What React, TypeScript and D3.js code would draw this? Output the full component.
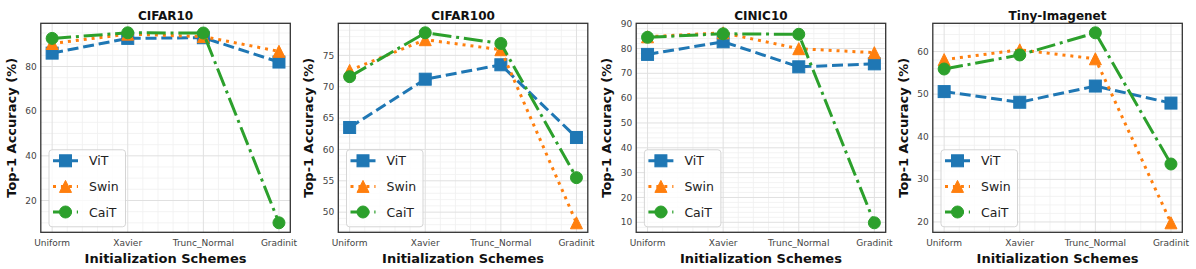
import * as d3 from 'd3';
import React from 'react';

// Accuracy values
const categories = ['Uniform', 'Xavier', 'Trunc_Normal', 'Gradinit'];
const datasets = ['CIFAR10', 'CIFAR100', 'CINIC10', 'Tiny-Imagenet'];

const vitAcc = [
    [86.0, 92.6, 92.9, 82.0],
    [63.5, 71.2, 73.5, 61.9],
    [77.6, 82.7, 72.6, 73.8],
    [50.6, 48.1, 51.9, 47.9],
];
const swinAcc = [
    [90.3, 94.5, 93.4, 86.8],
    [72.6, 77.5, 75.9, 48.3],
    [84.7, 86.3, 79.9, 78.3],
    [58.1, 60.4, 58.3, 19.8],
];
const caitAcc = [
    [92.6, 95.1, 95.0, 10.0],
    [71.6, 78.6, 76.9, 55.5],
    [84.5, 85.9, 85.7, 9.8],
    [55.9, 59.2, 64.4, 33.6],
];

const yTicks = [
    [20, 40, 60, 80],
    [50, 55, 60, 65, 70, 75],
    [10, 20, 30, 40, 50, 60, 70, 80, 90],
    [20, 30, 40, 50, 60],
];
const yMinorStep = [5, 1, 2, 2];

const seriesNames = ['ViT', 'Swin', 'CaiT'];
const seriesColors = ['#1f77b4', '#ff7f0e', '#2ca02c'];
const seriesDash = ['11,4.8', '3,4.95', '19,4.8,3,4.8'];
const seriesMarker = ['square', 'triangle', 'circle'];

const font = '"DejaVu Sans", sans-serif';
const panelLeft = [40.8, 338.3, 636.2, 932.8];
const panelW = 249.5;
const top = 23.3;
const bottom = 232.3;

function Marker({ kind, x, y, color }: { kind: string; x: number; y: number; color: string }) {
    const s = 12;
    if (kind === 'square') {
        return <rect x={x - s / 2} y={y - s / 2} width={s} height={s} fill={color} stroke={color} strokeWidth={1} />;
    }
    if (kind === 'triangle') {
        const h = s / 2;
        return (
            <path
                d={`M${x},${y - h} L${x + h},${y + h} L${x - h},${y + h} Z`}
                fill={color}
                stroke={color}
                strokeWidth={1}
                strokeLinejoin="miter"
            />
        );
    }
    return <circle cx={x} cy={y} r={s / 2} fill={color} stroke={color} strokeWidth={1} />;
}

function Panel({ idx }: { idx: number }) {
    const left = panelLeft[idx];
    const right = left + panelW;
    const series = [vitAcc[idx], swinAcc[idx], caitAcc[idx]];

    const all = series.flat();
    const lo = d3.min(all)!;
    const hi = d3.max(all)!;
    const pad = (hi - lo) * 0.05;

    const x = d3.scaleLinear().domain([-0.15, categories.length - 1 + 0.15]).range([left, right]);
    const y = d3.scaleLinear().domain([lo - pad, hi + pad]).range([bottom, top]);

    const xMinor = d3.range(-0.0, categories.length - 1 + 0.001, 0.2).filter(v => Math.abs(v - Math.round(v)) > 1e-6);
    const [y0, y1] = y.domain();
    const step = yMinorStep[idx];
    const yMinor = d3
        .range(Math.ceil(y0 / step) * step, y1, step)
        .filter(v => !yTicks[idx].some(t => Math.abs(t - v) < 1e-6));

    const line = d3
        .line<number>()
        .x((_, i) => x(i))
        .y(d => y(d));

    const clipId = `clip-${idx}`;
    const cx = (left + right) / 2;

    // legend layout
    const lgX = left + 8.2;
    const lgY = bottom - 5.5 - 77;

    return (
        <g>
            <defs>
                <clipPath id={clipId}>
                    <rect x={left} y={top} width={panelW} height={bottom - top} />
                </clipPath>
            </defs>
            <rect x={left} y={top} width={panelW} height={bottom - top} fill="white" />
            {/* minor grid */}
            {xMinor.map(v => (
                <line key={`xm${v}`} x1={x(v)} x2={x(v)} y1={top} y2={bottom} stroke="#f0f0f0" strokeWidth={0.8} />
            ))}
            {yMinor.map(v => (
                <line key={`ym${v}`} x1={left} x2={right} y1={y(v)} y2={y(v)} stroke="#f0f0f0" strokeWidth={0.8} />
            ))}
            {/* major grid */}
            {categories.map((c, i) => (
                <line key={c} x1={x(i)} x2={x(i)} y1={top} y2={bottom} stroke="#e0e0e0" strokeWidth={1} />
            ))}
            {yTicks[idx].map(t => (
                <line key={`yt${t}`} x1={left} x2={right} y1={y(t)} y2={y(t)} stroke="#e0e0e0" strokeWidth={1} />
            ))}
            {/* series */}
            <g clipPath={`url(#${clipId})`}>
                {series.map((vals, s) => (
                    <g key={seriesNames[s]}>
                        <path
                            d={line(vals)!}
                            fill="none"
                            stroke={seriesColors[s]}
                            strokeWidth={3}
                            strokeDasharray={seriesDash[s]}
                        />
                        {vals.map((v, i) => (
                            <Marker key={i} kind={seriesMarker[s]} x={x(i)} y={y(v)} color={seriesColors[s]} />
                        ))}
                    </g>
                ))}
            </g>
            {/* frame */}
            <rect x={left} y={top} width={panelW} height={bottom - top} fill="none" stroke="#333" strokeWidth={1.3} />
            {/* ticks */}
            {categories.map((c, i) => (
                <text key={`xl${c}`} x={x(i)} y={246} textAnchor="middle" fontSize={9} fill="#444" fontFamily={font}>
                    {c}
                </text>
            ))}
            {yTicks[idx].map(t => (
                <text
                    key={`yl${t}`}
                    x={left - 4}
                    y={y(t)}
                    dy="0.35em"
                    textAnchor="end"
                    fontSize={9}
                    fill="#444"
                    fontFamily={font}
                >
                    {t}
                </text>
            ))}
            <text x={cx} y={19.5} textAnchor="middle" fontSize={12} fontWeight="bold" fontFamily={font} fill="#111">
                {datasets[idx]}
            </text>
            <text x={cx} y={262.5} textAnchor="middle" fontSize={13} fontWeight="bold" fontFamily={font} fill="#111">
                Initialization Schemes
            </text>
            <text
                transform={`translate(${left - 25},${(top + bottom) / 2}) rotate(-90)`}
                textAnchor="middle"
                fontSize={13}
                fontWeight="bold"
                fontFamily={font}
                fill="#111"
            >
                Top-1 Accuracy (%)
            </text>
            {/* legend */}
            <rect
                x={lgX}
                y={lgY}
                width={76.5}
                height={77}
                rx={3}
                fill="white"
                fillOpacity={0.8}
                stroke="#d0d0d0"
                strokeWidth={0.9}
            />
            {seriesNames.map((n, s) => {
                const ly = lgY + 11 + s * 25.6;
                return (
                    <g key={`lg${n}`}>
                        <line
                            x1={lgX + 4}
                            x2={lgX + 29}
                            y1={ly}
                            y2={ly}
                            stroke={seriesColors[s]}
                            strokeWidth={3}
                            strokeDasharray={seriesDash[s]}
                        />
                        <Marker kind={seriesMarker[s]} x={lgX + 16.5} y={ly} color={seriesColors[s]} />
                        <text x={lgX + 40} y={ly} dy="0.36em" fontSize={12.5} fontFamily={font} fill="#222">
                            {n}
                        </text>
                    </g>
                );
            })}
        </g>
    );
}

export default function App() {
    return (
        <svg
            width={1196}
            height={269}
            style={{ position: 'absolute', left: 0, top: 0, background: 'white' }}
        >
            <rect width={1196} height={269} fill="white" />
            {datasets.map((d, i) => (
                <Panel key={d} idx={i} />
            ))}
        </svg>
    );
}
